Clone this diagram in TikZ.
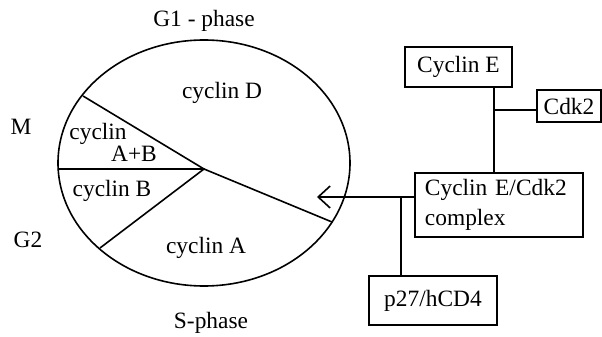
\documentclass[tikz,border=0pt]{standalone}
\usepackage{fontspec}
\setmainfont{Liberation Serif}
\usepackage{tikz}
\usetikzlibrary{arrows.meta, positioning, calc}

\tikzset{
    protbox/.style={draw, line width=0.8pt, inner sep=0pt, align=center},
    phaselbl/.style={inner sep=0pt, anchor=center},
}

\begin{document}
\begin{tikzpicture}[x=0.5pt, y=-0.5pt, line width=0.8pt, font=\fontsize{11.7}{14}\selectfont]
                \useasboundingbox (0,0) rectangle (602,337);
                % cell cycle wheel
                \draw (204,163) ellipse [x radius=73pt, y radius=61.5pt];
                \coordinate (hub) at (204,169);
                \coordinate (rimM) at (58,169);
                \coordinate (rimUp) at (83,96);
                \coordinate (rimLow) at (100,248);
                \coordinate (rimS) at (332,222);
                \draw (rimM) -- (hub) -- (rimUp);
                \draw (rimLow) -- (hub) -- (rimS);
                % phase and cyclin labels
                \node[phaselbl] (g1) at (204,21) {G1 - phase};
                \node[phaselbl] (mph) at (21,127) {M};
                \node[phaselbl] (g2) at (28,240) {G2};
                \node[phaselbl] (sph) at (211,323) {S-phase};
                \node[phaselbl] (cycD) at (222,93) {cyclin D};
                \node[phaselbl] (cycAB) at (98,134) {cyclin};
                \node[phaselbl] (plusAB) at (134,154) {A+B};
                \node[phaselbl] (cycB) at (112,191) {cyclin B};
                \node[phaselbl] (cycA) at (206,248) {cyclin A};
                % regulators
                \node[protbox, minimum width=53.5pt, minimum height=20pt] (cycE) at (458.5,67) {Cyclin E};
                \node[protbox, minimum width=32pt, minimum height=16pt] (cdk) at (569,106) {Cdk2};
                \node[protbox, minimum width=84pt, minimum height=32pt, align=left, text width=74pt] (cplx) at (499,205) {Cyclin E/Cdk2\\[1pt]complex};
                \node[protbox, minimum width=64pt, minimum height=24.5pt] (p27) at (433,300.5) {p27/hCD4};
                % connectors
                \coordinate (jE) at (494,110);
                \coordinate (jP) at (401,197);
                \coordinate (tip) at (317,197);
                \draw (cycE.south -| jE) -- (cplx.north -| jE);
                \draw (jE) -- (cdk.west |- jE);
                \draw[-{Straight Barb[length=6pt, width=11pt]}] (cplx.west |- jP) -- (tip);
                \draw (jP) -- (p27.north -| jP);
            \end{tikzpicture}
\end{document}
